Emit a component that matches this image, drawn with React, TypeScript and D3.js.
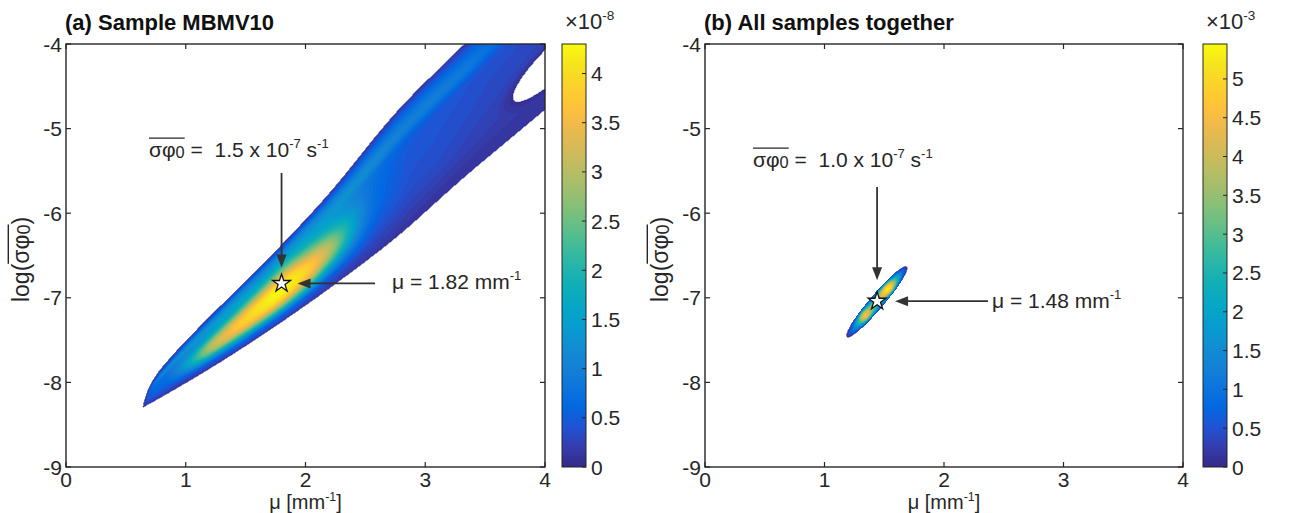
import React, { useMemo, useLayoutEffect, useRef, useState } from 'react';
import * as d3 from 'd3';

const FONT = '"Liberation Sans", Arial, Helvetica, sans-serif';
const INK = '#262626';

// ---------------- data ----------------
const muDomain = [0, 4];
const logDomain = [-9, -4];
const muTicks = [0, 1, 2, 3, 4];
const logTicks = [-9, -8, -7, -6, -5, -4];

const cbTicksA = [0, 0.5, 1, 1.5, 2, 2.5, 3, 3.5, 4];
const cbTicksB = [0, 0.5, 1, 1.5, 2, 2.5, 3, 3.5, 4, 4.5, 5];
const cbDomainA = [0, 4.3]; // x 1e-8
const cbDomainB = [0, 5.45]; // x 1e-3

// panel (a): outline of the posterior band (log10 units) read at mu stations
const edgeMu = [0.643, 0.701, 0.81, 1.094, 1.37, 1.787, 2.205, 2.764, 3.315, 4.0];
const edgeUpper = [-8.291, -8.054, -7.818, -7.381, -6.991, -6.4, -5.761, -4.804, -4.024, -3.078];
const edgeLower = [-8.291, -8.245, -8.158, -7.923, -7.682, -7.293, -6.877, -6.273, -5.584, -4.772];

// density (x 1e-8) inside the band: rows = mu stations, columns = relative band position
// (0 = lower edge, 1 = upper edge)
const bandMu = [0.64, 0.72, 0.85, 1.0, 1.2, 1.4, 1.6, 1.8, 2.0, 2.2, 2.5, 2.8, 3.1, 3.4, 3.7, 4.0];
const bandU = [0, 0.1, 0.2, 0.3, 0.4, 0.5, 0.6, 0.7, 0.8, 0.9, 1.0];
const bandValues = [
  [0.15, 0.15, 0.15, 0.15, 0.15, 0.15, 0.15, 0.15, 0.15, 0.15, 0.15],
  [0.15, 0.28, 0.4, 0.5, 0.55, 0.55, 0.55, 0.65, 0.75, 0.42, 0.15],
  [0.15, 0.3, 0.48, 0.6, 0.7, 0.75, 0.8, 0.95, 1.15, 0.6, 0.15],
  [0.15, 0.35, 0.75, 1.15, 1.45, 1.45, 1.25, 1.15, 1.3, 0.8, 0.15],
  [0.15, 0.5, 1.4, 2.5, 2.95, 2.6, 1.85, 1.4, 1.4, 0.9, 0.15],
  [0.15, 0.7, 1.9, 3.2, 3.65, 3.3, 2.4, 1.65, 1.45, 1.0, 0.15],
  [0.15, 0.8, 2.3, 3.65, 4.05, 3.85, 2.9, 1.95, 1.45, 1.0, 0.15],
  [0.15, 0.85, 2.5, 3.9, 4.25, 4.1, 3.2, 2.2, 1.5, 1.0, 0.15],
  [0.15, 0.7, 2.2, 3.5, 3.9, 3.55, 2.65, 1.85, 1.45, 1.0, 0.15],
  [0.15, 0.5, 1.4, 2.5, 3.0, 2.7, 2.0, 1.5, 1.35, 0.9, 0.15],
  [0.15, 0.3, 0.55, 0.8, 0.95, 0.95, 0.9, 0.9, 1.2, 0.8, 0.15],
  [0.12, 0.22, 0.32, 0.4, 0.45, 0.48, 0.5, 0.58, 1.0, 0.75, 0.15],
  [0.1, 0.18, 0.28, 0.34, 0.38, 0.4, 0.43, 0.5, 0.95, 0.7, 0.15],
  [0.1, 0.16, 0.24, 0.28, 0.32, 0.35, 0.38, 0.45, 0.85, 0.6, 0.15],
  [0.1, 0.15, 0.2, 0.24, 0.27, 0.3, 0.34, 0.4, 0.6, 0.5, 0.15],
  [0.1, 0.14, 0.18, 0.22, 0.25, 0.28, 0.32, 0.36, 0.45, 0.42, 0.15],
];
// low-density notch at the upper right (mu, band position)
const notchA = { mu: 4.1, u: 0.28, rMu: 0.37, rU: 0.14 };

// panel (b): narrow ellipse between two tips, density along its major axis (x 1e-3)
const ellipseB = { mu1: 1.19, log1: -7.46, mu2: 1.686, log2: -6.636, ratio: 0.14 };
const ellS = [-1, -0.8, -0.6, -0.4, -0.2, 0, 0.2, 0.4, 0.6, 0.8, 1];
const ellValues = [0.15, 1.0, 2.6, 4.6, 3.6, 3.0, 4.4, 5.3, 3.2, 1.3, 0.15];

const starA = { mu: 1.8, logS: -6.83 };
const starB = { mu: 1.44, logS: -7.04 };

// parula colormap stops
const parula = [
  [0.2081, 0.1663, 0.5292], [0.2081, 0.2386, 0.6771], [0.1253, 0.3242, 0.8303], [0.006, 0.4086, 0.8828],
  [0.0498, 0.4586, 0.8641], [0.0779, 0.504, 0.8384], [0.0641, 0.557, 0.824], [0.0265, 0.6137, 0.8135],
  [0.0228, 0.6535, 0.7768], [0.059, 0.6838, 0.7254], [0.1453, 0.7098, 0.6646], [0.2586, 0.7317, 0.5954],
  [0.3953, 0.7459, 0.5244], [0.53, 0.7491, 0.4661], [0.6473, 0.7456, 0.4188], [0.7525, 0.7384, 0.3768],
  [0.8507, 0.7299, 0.336], [0.945, 0.7261, 0.2886], [0.999, 0.7653, 0.2164], [0.9789, 0.8271, 0.1633],
  [0.9589, 0.8949, 0.1132], [0.9763, 0.9831, 0.0538],
];
const parulaHex = parula.map((c) => d3.rgb(c[0] * 255, c[1] * 255, c[2] * 255).formatHex());
const cmap = d3
  .scaleLinear<string>()
  .domain(parulaHex.map((_, i) => i / (parulaHex.length - 1)))
  .range(parulaHex)
  .interpolate(d3.interpolateRgb)
  .clamp(true);

// ---------------- helpers ----------------
function cr(xs: number[], ys: ArrayLike<number>, x: number): number {
  const n = xs.length;
  if (x <= xs[0]) return ys[0];
  if (x >= xs[n - 1]) return ys[n - 1];
  let k = 0;
  while (k < n - 2 && x > xs[k + 1]) k++;
  const x0 = xs[k], x1 = xs[k + 1], h = x1 - x0, t = (x - x0) / h;
  const y0 = ys[k], y1 = ys[k + 1];
  const m0 = k > 0 ? (ys[k + 1] - ys[k - 1]) / (xs[k + 1] - xs[k - 1]) : (y1 - y0) / h;
  const m1 = k + 2 < n ? (ys[k + 2] - ys[k]) / (xs[k + 2] - xs[k]) : (y1 - y0) / h;
  const t2 = t * t, t3 = t2 * t;
  return (2 * t3 - 3 * t2 + 1) * y0 + (t3 - 2 * t2 + t) * h * m0 + (-2 * t3 + 3 * t2) * y1 + (t3 - t2) * h * m1;
}

type Lin = d3.ScaleLinear<number, number>;

function bands(vals: Float64Array, nx: number, ny: number, thr: number[], max: number) {
  const cs = d3.contours().size([nx, ny]).thresholds(thr)(Array.from(vals));
  const path = d3.geoPath();
  return cs.map((c, i) => {
    const lo = thr[i];
    const hi = i + 1 < thr.length ? thr[i + 1] : max;
    return { d: path(c as any) || '', fill: cmap(((lo + hi) / 2) / max) };
  });
}

function computeA(x: Lin, y: Lin) {
  const [px0, px1] = x.range();
  const py0 = y.range()[1], py1 = y.range()[0];
  const nx = Math.round(px1 - px0), ny = Math.round(py1 - py0);
  const NU = 201;
  const fine = bandValues.map((row) => {
    const a = new Float64Array(NU);
    for (let k = 0; k < NU; k++) a[k] = cr(bandU, row, k / (NU - 1));
    return a;
  });
  const vals = new Float64Array(nx * ny);
  const col = new Array(bandMu.length).fill(0);
  for (let i = 0; i < nx; i++) {
    const mu = x.invert(px0 + i + 0.5);
    if (mu <= edgeMu[0] || mu > edgeMu[edgeMu.length - 1]) continue;
    const up = cr(edgeMu, edgeUpper, mu), lo = cr(edgeMu, edgeLower, mu);
    if (up - lo < 1e-4) continue;
    for (let j = 0; j < ny; j++) {
      const v = y.invert(py0 + j + 0.5);
      const u = (v - lo) / (up - lo);
      if (u < 0 || u > 1) continue;
      const d2 = ((mu - notchA.mu) / notchA.rMu) ** 2 + ((u - notchA.u) / notchA.rU) ** 2;
      if (d2 < 1) continue;
      const kf = u * (NU - 1), k0 = Math.floor(kf), k1 = Math.min(NU - 1, k0 + 1), f = kf - k0;
      for (let s = 0; s < bandMu.length; s++) col[s] = fine[s][k0] * (1 - f) + fine[s][k1] * f;
      let val = cr(bandMu, col, mu);
      val *= Math.min(1, 0.3 + (0.7 * (Math.sqrt(d2) - 1)) / 0.35);
      vals[j * nx + i] = Math.max(val, 0.08);
    }
  }
  const max = cbDomainA[1];
  const thr = [0.03, ...d3.range(0.1, max, 0.06)];
  return { x0: px0, y0: py0, paths: bands(vals, nx, ny, thr, max) };
}

function computeB(x: Lin, y: Lin) {
  const [px0, px1] = x.range();
  const py0 = y.range()[1], py1 = y.range()[0];
  const nx = Math.round(px1 - px0), ny = Math.round(py1 - py0);
  const ax = x(ellipseB.mu1), ay = y(ellipseB.log1), bx = x(ellipseB.mu2), by = y(ellipseB.log2);
  const cx = (ax + bx) / 2, cy = (ay + by) / 2;
  const len = Math.hypot(bx - ax, by - ay), half = len / 2, hw = half * ellipseB.ratio;
  const ex = (bx - ax) / len, ey = (by - ay) / len;
  const vals = new Float64Array(nx * ny);
  for (let i = 0; i < nx; i++) {
    const px = px0 + i + 0.5;
    for (let j = 0; j < ny; j++) {
      const py = py0 + j + 0.5;
      const dx = px - cx, dy = py - cy;
      const s = (dx * ex + dy * ey) / half;
      const w = (-dx * ey + dy * ex) / hw;
      const r2 = s * s + w * w;
      if (r2 >= 1) continue;
      const wn = w / Math.sqrt(1 - s * s);
      const a = cr(ellS, ellValues, s);
      vals[j * nx + i] = Math.max(0.1, a * (0.15 + 0.85 * (1 - wn * wn)));
    }
  }
  const max = cbDomainB[1];
  const thr = [0.03, ...d3.range(0.1, max, 0.08)];
  return { x0: px0, y0: py0, paths: bands(vals, nx, ny, thr, max) };
}

// ---------------- text with sub/sup/overline ----------------
type Part = { t: string; k?: 'sub' | 'sup'; over?: boolean };

function RichText(props: {
  x: number; y: number; parts: Part[]; size: number; anchor?: string; weight?: string; fill?: string;
}) {
  const { x, y, parts, size, anchor = 'start', weight = 'normal', fill = INK } = props;
  const ref = useRef<SVGTextElement>(null);
  const [ov, setOv] = useState<[number, number] | null>(null);
  useLayoutEffect(() => {
    const el = ref.current;
    if (!el) return;
    let idx = 0, s = -1, e = -1;
    parts.forEach((p) => {
      if (p.over) {
        if (s < 0) s = idx;
        e = idx + p.t.length - 1;
      }
      idx += p.t.length;
    });
    if (s >= 0) {
      try {
        const a = el.getStartPositionOfChar(s).x;
        const b = el.getEndPositionOfChar(e).x;
        setOv([a, b]);
      } catch (err) {
        /* ignore */
      }
    }
  }, []);
  return (
    <g>
      <text
        ref={ref}
        x={x}
        y={y}
        fontSize={size}
        fontFamily={FONT}
        fontWeight={weight}
        textAnchor={anchor as any}
        fill={fill}
        style={{ whiteSpace: 'pre' }}
      >
        {parts.map((p, i) => (
          <tspan
            key={i}
            fontSize={p.k === 'sup' ? size * 0.62 : p.k === 'sub' ? size * 0.78 : undefined}
            baselineShift={p.k === 'sup' ? size * 0.42 : p.k === 'sub' ? -size * 0.06 : undefined}
          >
            {p.t}
          </tspan>
        ))}
      </text>
      {ov && (
        <line x1={ov[0]} x2={ov[1]} y1={y - size * 0.9} y2={y - size * 0.9} stroke={INK} strokeWidth={1.4} />
      )}
    </g>
  );
}

function Arrow({ x1, y1, x2, y2 }: { x1: number; y1: number; x2: number; y2: number }) {
  const a = Math.atan2(y2 - y1, x2 - x1);
  const L = 13, Wd = 5;
  const bx = x2 - L * Math.cos(a), by = y2 - L * Math.sin(a);
  const nx = -Math.sin(a), ny = Math.cos(a);
  return (
    <g>
      <line x1={x1} y1={y1} x2={bx + Math.cos(a)} y2={by + Math.sin(a)} stroke="#333" strokeWidth={1.8} />
      <path d={`M${x2},${y2}L${bx + nx * Wd},${by + ny * Wd}L${bx - nx * Wd},${by - ny * Wd}Z`} fill="#333" />
    </g>
  );
}

function Axes({ x, y, title }: { x: Lin; y: Lin; title: string }) {
  const [x0, x1] = x.range();
  const y1 = y.range()[0], y0 = y.range()[1];
  const tl = 5;
  return (
    <g>
      <rect x={x0} y={y0} width={x1 - x0} height={y1 - y0} fill="none" stroke={INK} strokeWidth={1.4} />
      {muTicks.map((t) => (
        <g key={'x' + t}>
          <line x1={x(t)} x2={x(t)} y1={y1} y2={y1 - tl} stroke={INK} strokeWidth={1.2} />
          <line x1={x(t)} x2={x(t)} y1={y0} y2={y0 + tl} stroke={INK} strokeWidth={1.2} />
          <text x={x(t)} y={y1 + 20} fontSize={21} fontFamily={FONT} fill={INK} textAnchor="middle">
            {String(t)}
          </text>
        </g>
      ))}
      {logTicks.map((t) => (
        <g key={'y' + t}>
          <line x1={x0} x2={x0 + tl} y1={y(t)} y2={y(t)} stroke={INK} strokeWidth={1.2} />
          <line x1={x1} x2={x1 - tl} y1={y(t)} y2={y(t)} stroke={INK} strokeWidth={1.2} />
          <text x={x0 - 4} y={y(t) + 7.5} fontSize={21} fontFamily={FONT} fill={INK} textAnchor="end">
            {String(t)}
          </text>
        </g>
      ))}
      <text x={x0 - 1} y={30} fontSize={22} fontWeight="bold" fontFamily={FONT} fill="#111">
        {title}
      </text>
      <RichText
        x={(x0 + x1) / 2}
        y={509}
        size={20}
        anchor="middle"
        parts={[{ t: 'μ [mm' }, { t: '-1', k: 'sup' }, { t: ']' }]}
      />
      <g transform={`translate(${x0 - 37},${(y0 + y1) / 2 + 4}) rotate(-90)`}>
        <RichText
          x={0}
          y={0}
          size={23}
          anchor="middle"
          parts={[{ t: 'log(' }, { t: 'σφ', over: true }, { t: '0', k: 'sub', over: true }, { t: ')' }]}
        />
      </g>
    </g>
  );
}

function Colorbar({ x0, x1, scale, ticks, exp, id }: { x0: number; x1: number; scale: Lin; ticks: number[]; exp: string; id: string }) {
  const yb = scale.range()[0], yt = scale.range()[1];
  return (
    <g>
      <defs>
        <linearGradient id={id} x1="0" y1="1" x2="0" y2="0">
          {parulaHex.map((c, i) => (
            <stop key={i} offset={i / (parulaHex.length - 1)} stopColor={c} />
          ))}
        </linearGradient>
      </defs>
      <rect x={x0} y={yt} width={x1 - x0} height={yb - yt} fill={`url(#${id})`} stroke={INK} strokeWidth={1} />
      {ticks.map((t) => (
        <g key={t}>
          <line x1={x1} x2={x1 - 4} y1={scale(t)} y2={scale(t)} stroke={INK} strokeWidth={1} />
          <text x={x1 + 5} y={scale(t) + 7.5} fontSize={21} fontFamily={FONT} fill={INK}>
            {String(t)}
          </text>
        </g>
      ))}
      <RichText x={x0 + 3} y={29} size={22} parts={[{ t: '×10' }, { t: exp, k: 'sup' }]} />
    </g>
  );
}

export default function App() {
  const xA = d3.scaleLinear().domain(muDomain).range([66, 545]);
  const xB = d3.scaleLinear().domain(muDomain).range([705, 1183]);
  const y = d3.scaleLinear().domain(logDomain).range([467, 44]);
  const cbA = d3.scaleLinear().domain(cbDomainA).range([467, 44]);
  const cbB = d3.scaleLinear().domain(cbDomainB).range([467, 44]);

  const fieldA = useMemo(() => computeA(xA, y), []);
  const fieldB = useMemo(() => computeB(xB, y), []);
  const star = d3.symbol().type(d3.symbolStar).size(100)() || '';

  const sAx = xA(starA.mu), sAy = y(starA.logS);
  const sBx = xB(starB.mu), sBy = y(starB.logS);

  return (
    <svg width={1293} height={513} style={{ position: 'absolute', left: 0, top: 0, background: '#fff' }}>
      <rect x={0} y={0} width={1293} height={513} fill="#fff" />
      <defs>
        <clipPath id="clipA">
          <rect x={66} y={44} width={479} height={423} />
        </clipPath>
        <clipPath id="clipB">
          <rect x={705} y={44} width={478} height={423} />
        </clipPath>
      </defs>
      <g clipPath="url(#clipA)">
        <g transform={`translate(${fieldA.x0},${fieldA.y0})`}>
          {fieldA.paths.map((p, i) => (
            <path key={i} d={p.d} fill={p.fill} stroke={p.fill} strokeWidth={0.3} />
          ))}
        </g>
      </g>
      <g clipPath="url(#clipB)">
        <g transform={`translate(${fieldB.x0},${fieldB.y0})`}>
          {fieldB.paths.map((p, i) => (
            <path key={i} d={p.d} fill={p.fill} stroke={p.fill} strokeWidth={0.3} />
          ))}
        </g>
      </g>

      <Axes x={xA} y={y} title="(a) Sample MBMV10" />
      <Axes x={xB} y={y} title="(b) All samples together" />
      <Colorbar x0={562} x1={586} scale={cbA} ticks={cbTicksA} exp="-8" id="gA" />
      <Colorbar x0={1203} x1={1227} scale={cbB} ticks={cbTicksB} exp="-3" id="gB" />

      {/* annotations (a) */}
      <Arrow x1={sAx} y1={173} x2={sAx} y2={sAy - 16} />
      <Arrow x1={375} y1={sAy} x2={sAx + 16} y2={sAy} />
      <path d={star} transform={`translate(${sAx},${sAy})`} fill="#fff" stroke="#111" strokeWidth={1.3} />
      <RichText
        x={149}
        y={157}
        size={21}
        parts={[
          { t: 'σφ', over: true },
          { t: '0', k: 'sub', over: true },
          { t: ' =  1.5 x 10' },
          { t: '-7', k: 'sup' },
          { t: ' s' },
          { t: '-1', k: 'sup' },
        ]}
      />
      <RichText x={392} y={289} size={21} parts={[{ t: 'μ = 1.82 mm' }, { t: '-1', k: 'sup' }]} />

      {/* annotations (b) */}
      <Arrow x1={sBx} y1={187} x2={sBx} y2={sBy - 21} />
      <Arrow x1={988} y1={sBy} x2={sBx + 18} y2={sBy} />
      <path d={star} transform={`translate(${sBx},${sBy})`} fill="#fff" stroke="#111" strokeWidth={1.3} />
      <RichText
        x={753}
        y={167}
        size={21}
        parts={[
          { t: 'σφ', over: true },
          { t: '0', k: 'sub', over: true },
          { t: ' =  1.0 x 10' },
          { t: '-7', k: 'sup' },
          { t: ' s' },
          { t: '-1', k: 'sup' },
        ]}
      />
      <RichText x={992} y={308} size={21} parts={[{ t: 'μ = 1.48 mm' }, { t: '-1', k: 'sup' }]} />
    </svg>
  );
}
